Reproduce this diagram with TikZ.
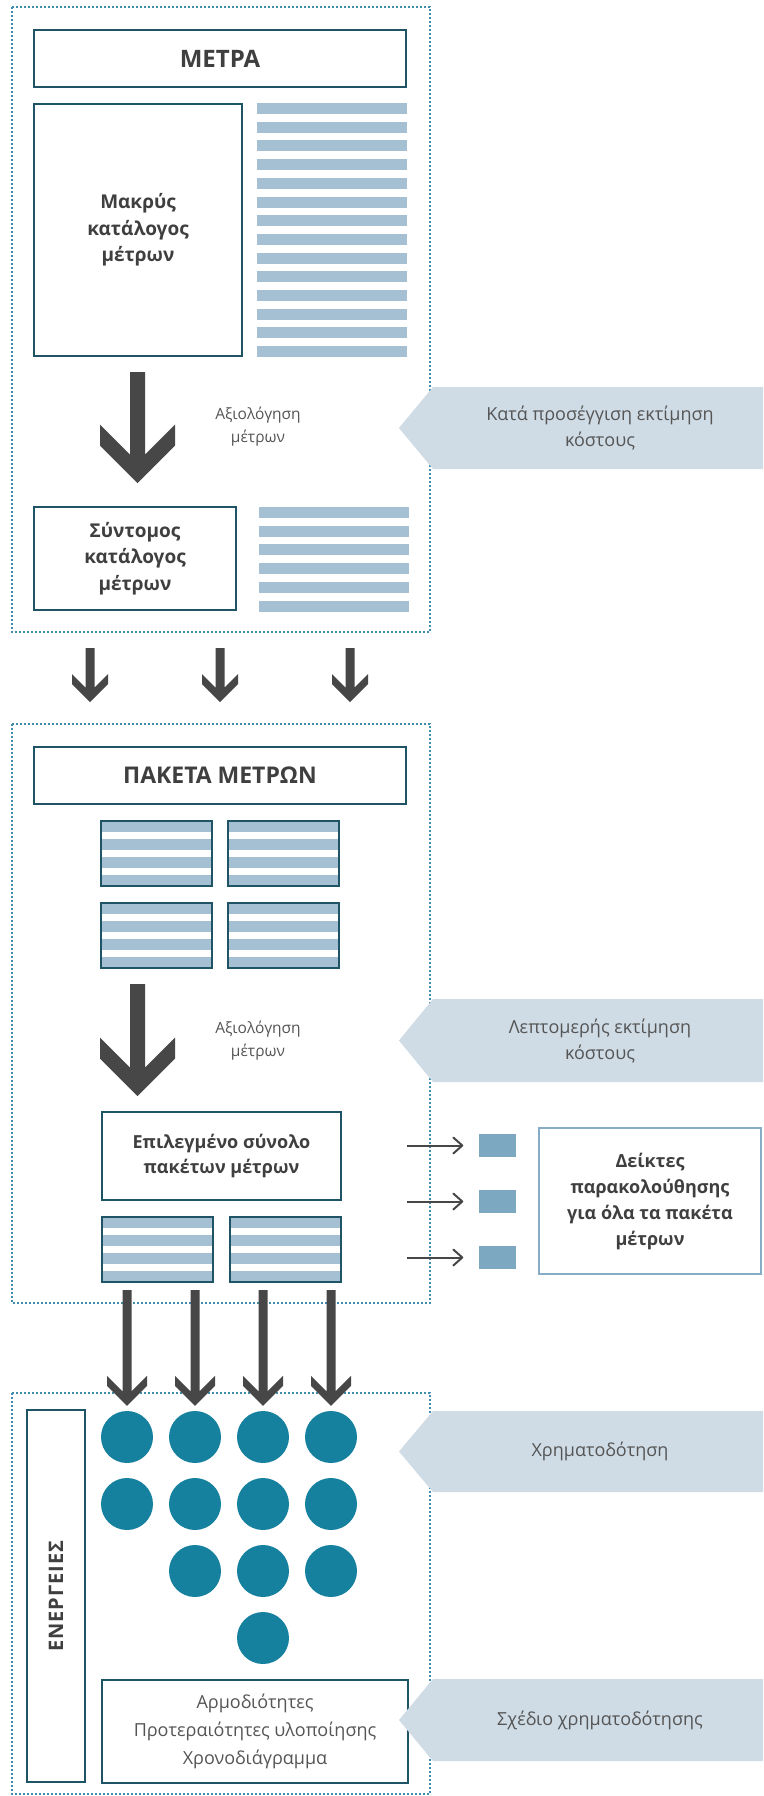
\documentclass[tikz,border=0pt]{standalone}
\usepackage{fontspec}
\setmainfont{Open Sans}
\usetikzlibrary{calc,arrows.meta}

\definecolor{boxteal}{HTML}{1F5466}
\definecolor{framedot}{HTML}{3F8DAB}
\definecolor{barblue}{HTML}{A5BFD3}
\definecolor{tagblue}{HTML}{CFDCE6}
\definecolor{arrowgray}{HTML}{474747}
\definecolor{dotblue}{HTML}{16819F}
\definecolor{sqblue}{HTML}{7CA8C2}
\definecolor{lightframe}{HTML}{86ADC5}
\definecolor{textgray}{HTML}{3F3F3F}
\definecolor{softgray}{HTML}{555555}

\tikzset{
  dotframe/.style={draw=framedot, line width=2pt, dash pattern=on 2pt off 2pt},
  tealbox/.style={draw=boxteal, line width=2.5pt, fill=white, text=textgray, align=center, inner sep=0pt},
  boldtext/.style={font=\bfseries\fontsize{19}{26.5}\selectfont},
  softtext/.style={text=softgray, align=center, font=\fontsize{15.5}{23}\selectfont},
  tagtext/.style={text=softgray, align=center, font=\fontsize{18}{26}\selectfont},
  actdot/.style={circle, fill=dotblue, minimum size=52pt, inner sep=0pt},
  sqmark/.style={fill=sqblue, minimum width=37pt, minimum height=23pt, inner sep=0pt},
  sidearrow/.style={draw=arrowgray, line width=2pt, -{Straight Barb[length=9pt,width=16pt,round]}, shorten >=15pt}
}

\newcommand{\barList}[3]{\foreach \k in {1,...,#3} \fill[barblue] (#1,{#2+(\k-1)*18.7}) rectangle ++(150,11);}
\newcommand{\stripeBox}[3]{\fill[barblue] (#2,#3) rectangle ++(111,65);
  \foreach \k in {11,29,47} \fill[white] (#2,#3+\k) rectangle ++(111,7);
  \node[draw=boxteal, line width=2.5pt, minimum width=111pt, minimum height=65pt, inner sep=0pt] (#1) at (#2+55.5,#3+32.5) {};}
\newcommand{\thickArrow}[5]{\fill[arrowgray] let \p1=#1, \p2=#2 in
  (\x1-#3,\y1) -- (\x1+#3,\y1) -- (\x1+#3,\y2+#5+#3) -- (\x1+#4,\y2+#5+#4) -- (\x1+#4,\y2+#4)
  -- (\x1,\y2) -- (\x1-#4,\y2+#4) -- (\x1-#4,\y2+#5+#4) -- (\x1-#3,\y2+#5+#3) -- cycle;}
\newcommand{\costTag}[4]{\fill[tagblue] (399,{(#2+#3)/2}) -- (433,#2) -- (763,#2) -- (763,#3) -- (433,#3) -- cycle;
  \node[tagtext] (#1) at (600,{(#2+#3)/2}) {#4};}

\begin{document}
\begin{tikzpicture}[x=1pt,y=-1pt]
  \useasboundingbox[fill=white] (0,0) rectangle (763,1796);
  \draw[dotframe] (12,7) rectangle (430,632);
  \draw[dotframe] (12,724) rectangle (430,1303);
  \draw[dotframe] (12,1393) rectangle (430,1794);

  \node[tealbox, minimum width=372pt, minimum height=57pt, font=\bfseries\fontsize{24}{28}\selectfont] (metra) at (220,58.5) {ΜΕΤΡΑ};
  \node[tealbox, boldtext, minimum width=208pt, minimum height=252pt] (longlist) at (138,230) {Μακρύς\\κατάλογος\\μέτρων};
  \barList{257}{103}{14}
  \coordinate (eval1s) at (137.5,372);
  \coordinate (eval1e) at (137.5,483);
  \thickArrow{(eval1s)}{(eval1e)}{7.5}{37.5}{21}
  \node[softtext] (eval1) at (258,427) {Αξιολόγηση\\μέτρων};
  \costTag{tag1}{387}{469}{Κατά προσέγγιση εκτίμηση\\κόστους}
  \node[tealbox, boldtext, minimum width=202pt, minimum height=103pt] (shortlist) at (135,558.5) {Σύντομος\\κατάλογος\\μέτρων};
  \barList{259}{507}{6}

  \foreach \g/\gx in {1/90,2/220,3/350}{
    \coordinate (gs\g) at (\gx,648);
    \coordinate (ge\g) at (\gx,702);
    \thickArrow{(gs\g)}{(ge\g)}{4.5}{18}{10}
  }

  \node[tealbox, minimum width=372pt, minimum height=57pt, font=\bfseries\fontsize{23}{28}\selectfont] (paketa) at (220,775.5) {ΠΑΚΕΤΑ ΜΕΤΡΩΝ};
  \stripeBox{pkA}{101}{821}
  \stripeBox{pkB}{228}{821}
  \stripeBox{pkC}{101}{903}
  \stripeBox{pkD}{228}{903}
  \coordinate (eval2s) at (137.5,984);
  \coordinate (eval2e) at (137.5,1096);
  \thickArrow{(eval2s)}{(eval2e)}{7.5}{37.5}{21}
  \node[softtext] (eval2) at (258,1041) {Αξιολόγηση\\μέτρων};
  \costTag{tag2}{999}{1082}{Λεπτομερής εκτίμηση\\κόστους}
  \node[tealbox, font=\bfseries\fontsize{18}{25.7}\selectfont, minimum width=239pt, minimum height=88pt] (chosen) at (221.5,1156) {Επιλεγμένο σύνολο\\πακέτων μέτρων};
  \stripeBox{selA}{102}{1217}
  \stripeBox{selB}{230}{1217}
  \foreach \i/\iy in {1/1145.5,2/1201.5,3/1257.5}{
    \node[sqmark] (ind\i) at (497,\iy) {};
    \coordinate (tick\i) at (407,\iy);
    \draw[sidearrow] (tick\i) -- (ind\i);
  }
  \node[tealbox, draw=lightframe, font=\bfseries\fontsize{18}{26}\selectfont, minimum width=222pt, minimum height=146pt] (deiktes) at (650,1201) {Δείκτες\\παρακολούθησης\\για όλα τα πακέτα\\μέτρων};

  \foreach \r/\c in {1/1,1/2,1/3,1/4,2/1,2/2,2/3,2/4,3/2,3/3,3/4,4/3}
    \node[actdot] (act\r\c) at ({127+(\c-1)*68},{1437+(\r-1)*67}) {};
  \foreach \c in {1,...,4}{
    \coordinate (feed\c) at ({127+(\c-1)*68},1290);
    \thickArrow{(feed\c)}{($(act1\c.north)+(0,-5)$)}{4.5}{20}{10}
  }
  \node[tealbox, rotate=90, minimum width=372pt, minimum height=58pt, font=\bfseries\fontsize{20}{24}\selectfont\addfontfeature{LetterSpace=5}] (energeies) at (56,1596) {ΕΝΕΡΓΕΙΕΣ};
  \costTag{tag3}{1411}{1492}{Χρηματοδότηση}
  \node[tealbox, text=softgray, font=\fontsize{18}{28}\selectfont, minimum width=306pt, minimum height=103pt] (plan) at (255,1731.5) {Αρμοδιότητες\\Προτεραιότητες υλοποίησης\\Χρονοδιάγραμμα};
  \costTag{tag4}{1679}{1761}{Σχέδιο χρηματοδότησης}
\end{tikzpicture}
\end{document}
